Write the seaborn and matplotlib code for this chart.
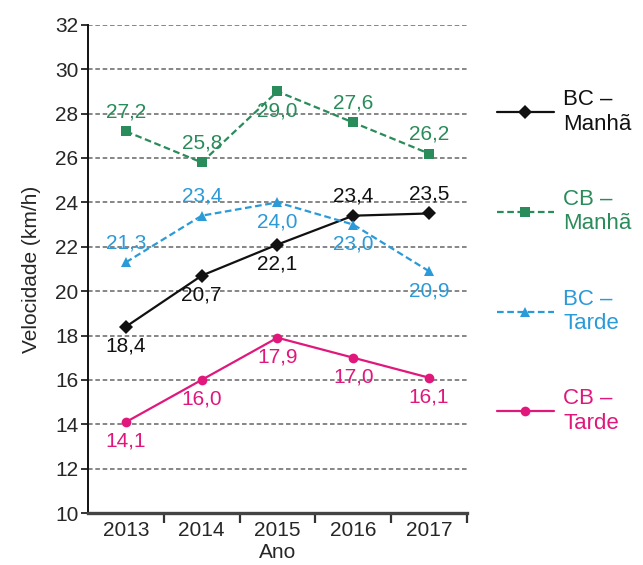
import matplotlib
matplotlib.use('Agg')
import matplotlib.pyplot as plt
from matplotlib.ticker import FixedLocator
import pandas as pd
import seaborn as sns

# Dados do gráfico
anos = ['2013', '2014', '2015', '2016', '2017']
series = ['BC –\nManhã', 'CB –\nManhã', 'BC –\nTarde', 'CB –\nTarde']
bc_manha = [18.4, 20.7, 22.1, 23.4, 23.5]
cb_manha = [27.2, 25.8, 29.0, 27.6, 26.2]
bc_tarde = [21.3, 23.4, 24.0, 23.0, 20.9]
cb_tarde = [14.1, 16.0, 17.9, 17.0, 16.1]

# posição dos rótulos: +1 acima do ponto, -1 abaixo
pos_bc_manha = [-1, -1, -1, 1, 1]
pos_cb_manha = [1, 1, -1, 1, 1]
pos_bc_tarde = [1, 1, -1, -1, -1]
pos_cb_tarde = [-1, -1, -1, -1, -1]

cores = ['#111111', '#2a8c5a', '#2a9ad8', '#e0187c']
marcadores = ['D', 's', '^', 'o']
tracos = ['', (3, 1.6), (3, 1.6), '']

valores = [bc_manha, cb_manha, bc_tarde, cb_tarde]
posicoes = [pos_bc_manha, pos_cb_manha, pos_bc_tarde, pos_cb_tarde]

# Montando o dataframe no formato longo
linhas = []
for nome, vals in zip(series, valores):
    for ano, v in zip(anos, vals):
        linhas.append({'Ano': ano, 'Velocidade': v, 'Serie': nome})
df = pd.DataFrame(linhas)

sns.set_style('white')
plt.rcParams['font.family'] = ['Liberation Sans', 'DejaVu Sans']

fig = plt.figure(figsize=(6.43, 5.65), dpi=100)
ax = fig.add_axes([0.137, 0.092, 0.589, 0.864])

# Grade horizontal tracejada
for y in range(12, 33, 2):
    ax.axhline(y, color='#666666', linestyle=(0, (3, 1.8)), linewidth=1.1, zorder=0)

sns.lineplot(data=df, x='Ano', y='Velocidade', hue='Serie', style='Serie',
             palette=dict(zip(series, cores)), markers=dict(zip(series, marcadores)),
             dashes=dict(zip(series, tracos)), linewidth=1.6, markersize=7,
             markeredgewidth=0, ax=ax, sort=False)

# Rótulos dos valores
for vals, pos, cor in zip(valores, posicoes, cores):
    for i, (v, p) in enumerate(zip(vals, pos)):
        ax.annotate(f'{v:.1f}'.replace('.', ','), (i, v), xytext=(0, 14 * p),
                    textcoords='offset points', ha='center', va='center',
                    color=cor, fontsize=15)

ax.set_xlim(-0.5, 4.5)
ax.set_ylim(10, 32)
ax.set_yticks(range(10, 33, 2))
ax.tick_params(axis='y', labelsize=15, length=5, width=1.2, color='#111111',
               direction='out', pad=2, left=True)
ax.set_xticks(range(len(anos)))
ax.set_xticklabels(anos)
ax.xaxis.set_minor_locator(FixedLocator([0.5, 1.5, 2.5, 3.5, 4.5]))
ax.tick_params(axis='x', which='major', length=0, labelsize=15, pad=6)
ax.tick_params(axis='x', which='minor', length=7, width=1.6, color='#333333',
               direction='out', bottom=True)

ax.spines['right'].set_visible(False)
ax.spines['top'].set_visible(False)
ax.spines['left'].set_color('#111111')
ax.spines['left'].set_linewidth(1.4)
ax.spines['bottom'].set_color('#444444')
ax.spines['bottom'].set_linewidth(2.4)

ax.set_xlabel('Ano', fontsize=15, labelpad=2)
ax.set_ylabel('Velocidade (km/h)', fontsize=15, labelpad=10)

# Legenda à direita com texto colorido
handles, labels = ax.get_legend_handles_labels()
ax.legend(handles, labels, loc='upper left', bbox_to_anchor=(1.055, 0.886),
          frameon=False, fontsize=16, labelcolor='linecolor', handlelength=2.6,
          handletextpad=0.4, labelspacing=2.45, borderaxespad=0)

plt.savefig('out.png', dpi=100)
plt.close()
